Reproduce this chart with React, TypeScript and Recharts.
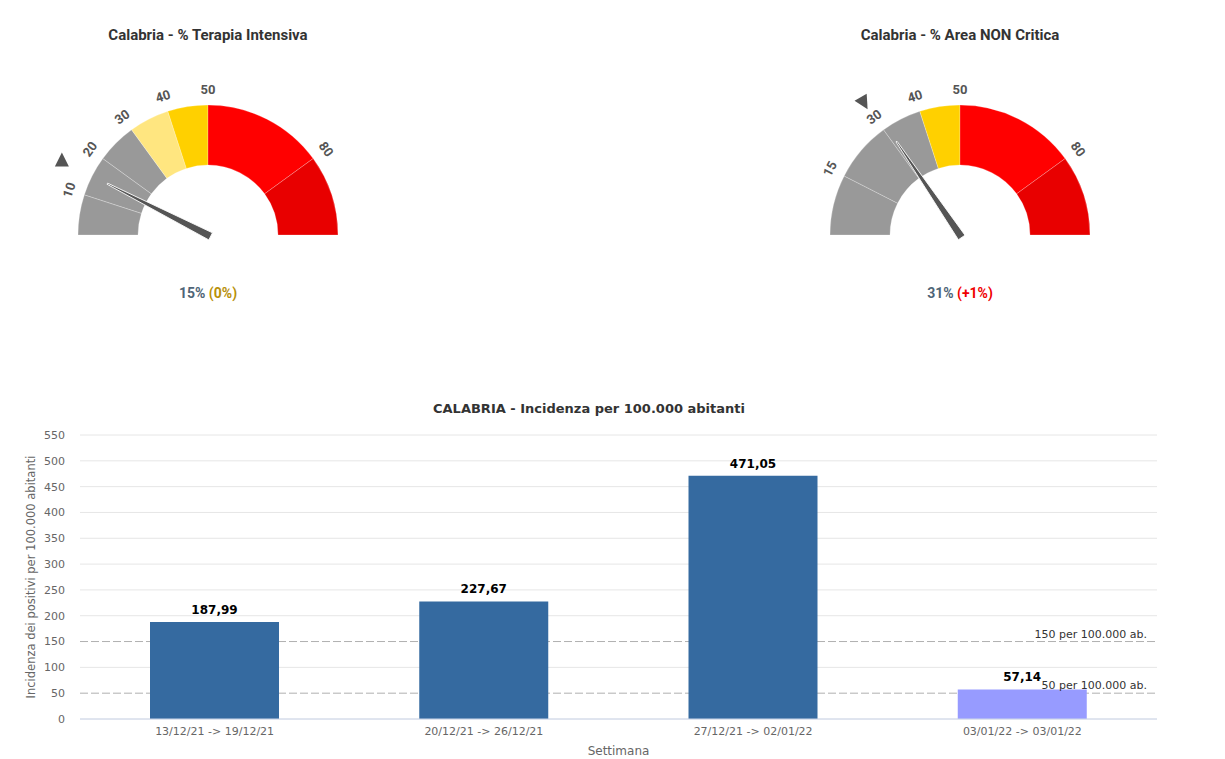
import React from 'react';
import {
  PieChart, Pie, Cell, BarChart, Bar, XAxis, YAxis, CartesianGrid, ReferenceLine, LabelList
} from 'recharts';

// Gauge 1 - Terapia Intensiva
const tiBandEnds = [10, 20, 30, 40, 50, 80, 100];
const tiBandColors = ['#999999', '#999999', '#999999', '#ffe680', '#ffd000', '#ff0000', '#e80000'];
const tiValue = 15;
const tiPrevious = 15;
const tiDelta = '(0%)';

// Gauge 2 - Area NON Critica
const ancBandEnds = [15, 30, 40, 50, 80, 100];
const ancBandColors = ['#999999', '#999999', '#999999', '#ffd000', '#ff0000', '#e80000'];
const ancValue = 31;
const ancPrevious = 30;
const ancDelta = '(+1%)';

// Incidenza settimanale
const weeks = ['13/12/21 -> 19/12/21', '20/12/21 -> 26/12/21', '27/12/21 -> 02/01/22', '03/01/22 -> 03/01/22'];
const incidence = [187.99, 227.67, 471.05, 57.14];
const barColors = ['#356aa0', '#356aa0', '#356aa0', '#979bff'];
const yTicks = [0, 50, 100, 150, 200, 250, 300, 350, 400, 450, 500, 550];
const thresholds = [150, 50];
const thresholdLabels = ['150 per 100.000 ab.', '50 per 100.000 ab.'];

const barData = weeks.map((week, i) => ({ week, value: incidence[i] }));
const solidGridValues = yTicks.filter(t => !thresholds.includes(t));

const RAD = Math.PI / 180;
const polar = (cx: number, cy: number, r: number, angle: number) => ({
  x: cx + r * Math.cos(angle * RAD),
  y: cy - r * Math.sin(angle * RAD),
});

const GAUGE_FONT = 'Roboto, "Noto Sans", sans-serif';

interface GaugeProps {
  title: string;
  bandEnds: number[];
  bandColors: string[];
  value: number;
  previous: number;
  delta: string;
  deltaColor: string;
  markerRotation: number;
  left: number;
}

const Gauge: React.FC<GaugeProps> = ({ title, bandEnds, bandColors, value, previous, delta, deltaColor, markerRotation, left }) => {
  const bands = bandEnds.map((end, i) => ({ name: String(end), value: end - (i ? bandEnds[i - 1] : 0) }));
  const needle = [{ value }, { value: 100 - value }];
  const marker = [{ value: previous }, { value: 100 - previous }];
  const last = bands.length - 1;

  const renderTick = (props: any) => {
    if (props.index === last) return null;
    const { cx, cy, endAngle } = props;
    const p = polar(cx, cy, 146, endAngle);
    return (
      <text
        key={`t-${props.index}`}
        x={p.x}
        y={p.y}
        transform={`rotate(${90 - endAngle} ${p.x} ${p.y})`}
        textAnchor="middle"
        dominantBaseline="central"
        fill="#555"
        fontSize={13}
        fontWeight="bold"
        fontFamily={GAUGE_FONT}
      >
        {bandEnds[props.index]}
      </text>
    );
  };

  const renderNeedle = (props: any) => {
    if (props.index !== 0) return null;
    const { cx, cy, endAngle } = props;
    return (
      <path
        key="needle"
        d="M -3 -4 L 113 -0.6 L 113 0.6 L -3 4 Z"
        transform={`translate(${cx} ${cy}) rotate(${-endAngle})`}
        fill="#555555"
        stroke="#ffffff"
        strokeWidth={0.8}
      />
    );
  };

  const renderMarker = (props: any) => {
    if (props.index !== 0) return null;
    const { cx, cy, endAngle } = props;
    const p = polar(cx, cy, 164, endAngle);
    return (
      <path
        key="marker"
        d="M 0 -8 L 7 6 L -7 6 Z"
        transform={`translate(${p.x} ${p.y}) rotate(${markerRotation})`}
        fill="#555555"
      />
    );
  };

  return (
    <div style={{ position: 'absolute', left, top: 0, width: 400, height: 320 }}>
      <div style={{
        position: 'absolute', top: 25, left: 0, width: 400, textAlign: 'center',
        fontFamily: GAUGE_FONT, fontWeight: 'bold', fontSize: 15, color: '#333', lineHeight: '20px'
      }}>
        {title}
      </div>
      <div style={{ position: 'absolute', top: 0, left: 0 }}>
        <PieChart width={400} height={270} margin={{ top: 0, right: 0, bottom: 0, left: 0 }}>
          <Pie
            data={bands}
            dataKey="value"
            cx={200}
            cy={235}
            startAngle={180}
            endAngle={0}
            innerRadius={70}
            outerRadius={130}
            stroke="rgba(255,255,255,0.3)"
            strokeWidth={0.8}
            label={renderTick}
            labelLine={false}
            isAnimationActive={false}
          >
            {bands.map((b, i) => (
              <Cell key={`band-${i}`} fill={bandColors[i]} />
            ))}
          </Pie>
          <Pie
            data={marker}
            dataKey="value"
            cx={200}
            cy={235}
            startAngle={180}
            endAngle={0}
            innerRadius={150}
            outerRadius={151}
            fill="none"
            stroke="none"
            label={renderMarker}
            labelLine={false}
            isAnimationActive={false}
          />
          <Pie
            data={needle}
            dataKey="value"
            cx={200}
            cy={235}
            startAngle={180}
            endAngle={0}
            innerRadius={0}
            outerRadius={1}
            fill="none"
            stroke="none"
            label={renderNeedle}
            labelLine={false}
            isAnimationActive={false}
          />
        </PieChart>
      </div>
      <div style={{
        position: 'absolute', top: 283, left: 0, width: 400, textAlign: 'center',
        fontFamily: GAUGE_FONT, fontWeight: 'bold', fontSize: 14, lineHeight: '20px'
      }}>
        <span style={{ color: '#4f6577' }}>{value}%</span>{' '}
        <span style={{ color: deltaColor }}>{delta}</span>
      </div>
    </div>
  );
};

const RefLabel = (props: any) => {
  const { viewBox, text } = props;
  if (!viewBox) return null;
  return (
    <text
      x={viewBox.x + viewBox.width - 10}
      y={viewBox.y - 4}
      textAnchor="end"
      fill="#333"
      fontSize={11}
      fontFamily='"DejaVu Sans", sans-serif'
    >
      {text}
    </text>
  );
};

const fmt = (v: any) => Number(v).toFixed(2).replace('.', ',');

const App: React.FC = () => {
  return (
    <div style={{ position: 'absolute', left: 0, top: 0, width: 1225, height: 759, background: '#fff' }}>
      <Gauge
        title="Calabria - % Terapia Intensiva"
        bandEnds={tiBandEnds}
        bandColors={tiBandColors}
        value={tiValue}
        previous={tiPrevious}
        delta={tiDelta}
        deltaColor="#b8900a"
        markerRotation={0}
        left={8}
      />
      <Gauge
        title="Calabria - % Area NON Critica"
        bandEnds={ancBandEnds}
        bandColors={ancBandColors}
        value={ancValue}
        previous={ancPrevious}
        delta={ancDelta}
        deltaColor="#f00000"
        markerRotation={150}
        left={760}
      />

      <div style={{
        position: 'absolute', top: 399, left: 0, width: 1178, textAlign: 'center',
        fontFamily: '"DejaVu Sans", sans-serif', fontWeight: 'bold', fontSize: 13, color: '#333', lineHeight: '20px'
      }}>
        CALABRIA - Incidenza per 100.000 abitanti
      </div>

      <div style={{ position: 'absolute', top: 390, left: 0 }}>
        <BarChart
          width={1225}
          height={369}
          data={barData}
          margin={{ top: 45, right: 68, left: 0, bottom: 0 }}
          barCategoryGap="26%"
          style={{ fontFamily: '"DejaVu Sans", sans-serif' }}
        >
          <CartesianGrid vertical={false} stroke="#e6e6e6" horizontalValues={solidGridValues} />
          <CartesianGrid vertical={false} stroke="#b0b0b0" strokeDasharray="8 3" horizontalValues={thresholds} />
          <XAxis
            dataKey="week"
            height={40}
            tickLine={false}
            tickSize={0}
            tickMargin={8}
            axisLine={{ stroke: '#ccd6eb' }}
            tick={{ fill: '#666', fontSize: 11 }}
            label={{ value: 'Settimana', position: 'insideBottom', offset: 4, fill: '#666', fontSize: 12 }}
          />
          <YAxis
            width={80}
            domain={[0, 550]}
            ticks={yTicks}
            interval={0}
            tickLine={false}
            axisLine={false}
            tickSize={0}
            tickMargin={15}
            tick={{ fill: '#666', fontSize: 11 }}
            label={{
              value: 'Incidenza dei positivi per 100.000 abitanti',
              angle: -90,
              position: 'insideLeft',
              offset: 31,
              fill: '#666',
              fontSize: 11.5,
              style: { textAnchor: 'middle' },
            }}
          />
          {thresholds.map((t, i) => (
            <ReferenceLine
              key={`thr-${t}`}
              y={t}
              stroke="none"
              label={<RefLabel text={thresholdLabels[i]} />}
            />
          ))}
          <Bar dataKey="value" isAnimationActive={false}>
            {barData.map((d, i) => (
              <Cell key={`bar-${i}`} fill={barColors[i]} />
            ))}
            <LabelList
              dataKey="value"
              position="top"
              offset={8}
              formatter={fmt}
              fill="#000"
              fontSize={12}
              fontWeight="bold"
            />
          </Bar>
        </BarChart>
      </div>
    </div>
  );
};

export default App;
